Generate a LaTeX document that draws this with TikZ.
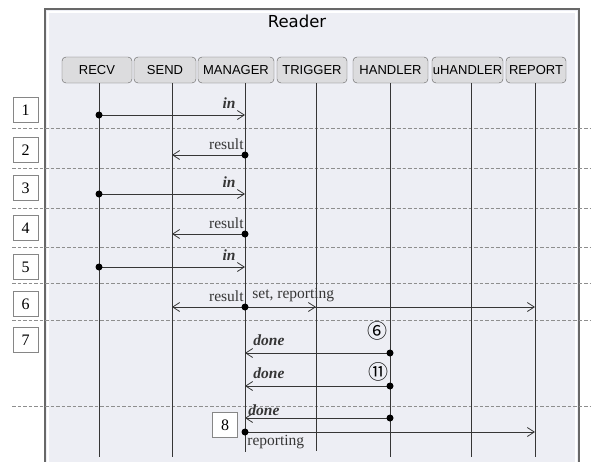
\documentclass[tikz,border=0pt]{standalone}
\usepackage{fontspec}
\setmainfont{Liberation Serif}
\newfontfamily\headfont{Liberation Sans}
\newfontfamily\titlefont{DejaVu Sans}
\newfontfamily\circfont{Noto Sans CJK SC}
\usetikzlibrary{arrows.meta,positioning}
\definecolor{panel}{HTML}{EDEEF4}
\definecolor{headfill}{HTML}{DCDCDE}
\definecolor{ink}{HTML}{363636}
\definecolor{sep}{HTML}{8E8E8E}
\begin{document}
\begin{tikzpicture}[x=1pt,y=-1pt,
  head/.style={draw=ink!80,fill=headfill,rounded corners=4pt,minimum height=26pt,inner sep=0pt,font=\headfont\fontsize{13}{15}\selectfont},
  life/.style={ink,line width=1pt},
  msg/.style={ink,line width=0.8pt,-{Straight Barb[length=7pt,width=9pt]}},
  lbl/.style={inner sep=0pt,font=\fontsize{15.5}{17}\selectfont},
  numbox/.style={draw=ink!60,fill=white,minimum size=25pt,inner sep=0pt,font=\fontsize{16}{18}\selectfont},
  circnum/.style={inner sep=0pt,font=\circfont\fontsize{20}{22}\selectfont},
  sepline/.style={sep,line width=0.8pt,dash pattern=on 3.5pt off 2pt},
  dot/.style={fill=black,circle,minimum size=7pt,inner sep=0pt}]
\useasboundingbox(0,0)rectangle(591,461);
\fill[panel](45,9)rectangle(579,462);
\draw[white,line width=1.5pt](48,462)--(48,12)--(576,12)--(576,462);
\draw[ink!75,line width=1.3pt](45,462)--(45,9)--(579,9)--(579,462);
\node[font=\titlefont\fontsize{16.5}{18}\selectfont](title)at(297,21){Reader};
\foreach \y in {128,168,208,247,283,320,406}
  \draw[sepline](12,\y)--(591,\y);
\foreach \n/\t/\cx/\w/\lx/\b in {recv/RECV/97/70/99/457,send/SEND/165/62/172/457,manager/MANAGER/236/76/245/452,trigger/TRIGGER/312/70/316/451,handler/HANDLER/390.5/75/390/457,uhandler/uHANDLER/467.5/71/471/457,report/REPORT/536/60/535/457}
{\node[head,minimum width=\w pt](\n)at(\cx,70){\t};
 \coordinate(\n-top)at(\lx,83);
 \coordinate(\n-bot)at(\lx,\b);
 \draw[life](\n-top)--(\n-bot);}
\foreach \k/\y in {1/115,2/155,3/194,4/234,5/267,6/307,7/353,8/386,9/418,10/432}
  \foreach \n in {recv,send,manager,trigger,handler,report}
    \coordinate(\n\k)at(\n-top|-0,\y);
\foreach \k/\y in {1/110,2/150,3/188,4/228,5/267,6/304,7/340}
  \node[numbox](n\k)at(25.5,\y){\k};
\node[numbox](n8)at(225,425){8};
\draw[msg](recv1)--(manager1)node[lbl,pos=1,above left=6pt and 9pt]{\textbf{\textit{in}}};
\draw[msg](manager2)--(send2)node[lbl,pos=0,above left=5pt and 1pt]{result};
\draw[msg](recv3)--(manager3)node[lbl,pos=1,above left=6pt and 9pt]{\textbf{\textit{in}}};
\draw[msg](manager4)--(send4)node[lbl,pos=0,above left=5pt and 1pt]{result};
\draw[msg](recv5)--(manager5)node[lbl,pos=1,above left=6pt and 9pt]{\textbf{\textit{in}}};
\draw[msg](manager6)--(send6)node[lbl,pos=0,above left=5pt and 1pt]{result};
\draw[msg](manager6)--(trigger6);
\draw[msg](manager6)--(report6)node[lbl,pos=0,above right=5pt and 7pt]{set, reporting};
\draw[msg](handler7)--(manager7)node[lbl,pos=1,above right=7pt and 8pt]{\textbf{\textit{done}}};
\draw[msg](handler8)--(manager8)node[lbl,pos=1,above right=7pt and 8pt]{\textbf{\textit{done}}};
\draw[msg](handler9)--(manager9)node[lbl,pos=1,above right=2pt and 3pt]{\textbf{\textit{done}}};
\draw[msg](manager10)--(report10)node[lbl,pos=0,below right=3pt and 2pt]{reporting};
\node[circnum](c6)at(377,331){⑥};
\node[circnum](c11)at(378,372){⑪};
\foreach \p in {recv1,manager2,recv3,manager4,recv5,manager6,handler7,handler8,handler9,manager10}
  \node[dot]at(\p){};
\end{tikzpicture}
\end{document}
